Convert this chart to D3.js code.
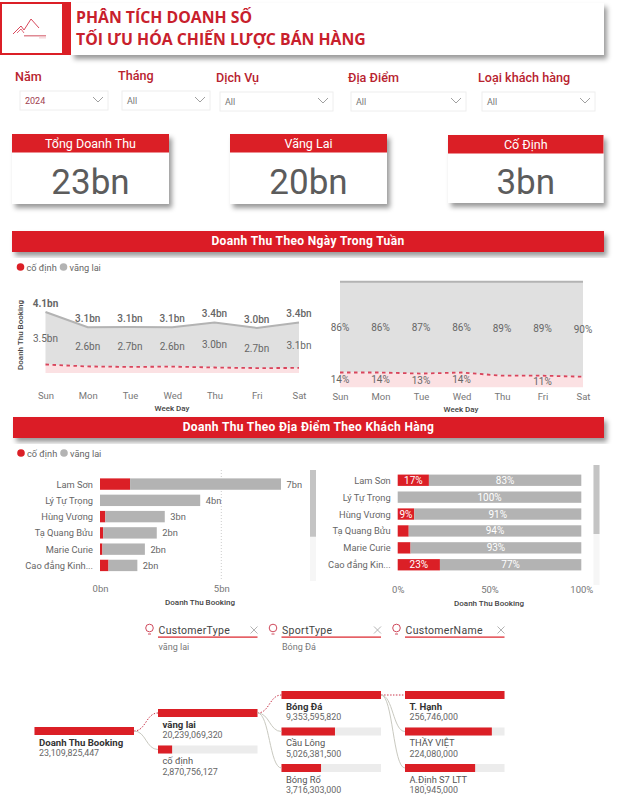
<!DOCTYPE html>
<html>
<head>
<meta charset="utf-8">
<style>
    html, body { margin: 0; padding: 0; background: #fff; }
    svg { display: block; }
    text { font-family: Roboto, "Open Sans", sans-serif; fill: #666; }
    .axis path, .axis line { display: none; }
    .axis text { font-size: 9.5px; fill: #777; font-family: Roboto, sans-serif; }
    .axis-title { font-size: 8px; font-weight: 500; fill: #444; }
    .lbl { font-size: 10px; fill: #666; }
    .cat { font-size: 9.3px; fill: #666; }
</style>
<script src="https://d3js.org/d3.v7.min.js"></script>
</head>
<body>

<svg id="page" width="621" height="799"></svg>

<script>
    var RED = "#db1f26", GREY = "#b3b3b3";

    // filters and cards
    var slicerNames = ["Năm", "Tháng", "Dịch Vụ", "Địa Điểm", "Loại khách hàng"];
    var slicerValues = ["2024", "All", "All", "All", "All"];
    var kpiNames = ["Tổng Doanh Thu", "Vãng Lai", "Cố Định"];
    var kpiValues = ["23bn", "20bn", "3bn"];

    // revenue by week day (bn)
    var days = ["Sun", "Mon", "Tue", "Wed", "Thu", "Fri", "Sat"];
    var dayCoDinh = [0.57, 0.44, 0.41, 0.43, 0.37, 0.33, 0.34];
    var dayVangLai = [3.53, 2.64, 2.68, 2.64, 3.03, 2.70, 3.06];
    var dayCoDinhPct = [14, 14, 13, 14, 11, 11, 10];
    var dayVangLaiPct = [86, 86, 87, 86, 89, 89, 90];
    var hiddenPctDays = ["Thu", "Sat"];

    // revenue by location (bn)
    var places = ["Lam Sơn", "Lý Tự Trọng", "Hùng Vương", "Tạ Quang Bửu", "Marie Curie", "Cao đẳng Kinh..."];
    var placesShort = ["Lam Sơn", "Lý Tự Trọng", "Hùng Vương", "Tạ Quang Bửu", "Marie Curie", "Cao đẳng Kin..."];
    var placeCoDinh = [1.24, 0, 0.22, 0.13, 0.10, 0.35];
    var placeVangLai = [6.22, 4.13, 2.45, 2.21, 1.75, 1.19];
    var placeCoDinhPct = [17, 0, 9, 6, 7, 23];
    var placeVangLaiPct = [83, 100, 91, 94, 93, 77];

    // decomposition tree
    var treeHeads = ["CustomerType", "SportType", "CustomerName"];
    var treeSubs = ["vãng lai", "Bóng Đá", ""];
    var rootName = "Doanh Thu Booking";
    var rootValue = 23109825447;
    var typeNames = ["vãng lai", "cố định"];
    var typeValues = [20239069320, 2870756127];
    var sportNames = ["Bóng Đá", "Cầu Lông", "Bóng Rổ"];
    var sportValues = [9353595820, 5026381500, 3716303000];
    var custNames = ["T. Hạnh", "THẦY VIỆT", "A.Định S7 LTT"];
    var custValues = [256746000, 224080000, 180945000];

    var svg = d3.select("#page");

    var defs = svg.append("defs");
    defs.append("filter").attr("id", "shadow")
        .attr("x", "-5%").attr("y", "-10%").attr("width", "112%").attr("height", "135%")
        .append("feDropShadow")
        .attr("dx", 3).attr("dy", 4).attr("stdDeviation", 2.5)
        .attr("flood-color", "#000").attr("flood-opacity", 0.4);

    // ---- header
    svg.append("rect").attr("x", 71).attr("y", 3).attr("width", 533).attr("height", 52)
        .attr("fill", "#fff").attr("filter", "url(#shadow)");
    svg.append("rect").attr("x", 0).attr("y", 2).attr("width", 71).attr("height", 53).attr("fill", RED);
    svg.append("rect").attr("x", 2).attr("y", 4).attr("width", 60).attr("height", 49).attr("fill", "#fff");
    svg.append("polyline")
        .attr("points", "13,34 21,26 24,30 31,19 39,28")
        .attr("fill", "none").attr("stroke", "#d8475a").attr("stroke-width", 1);
    svg.append("polyline")
        .attr("points", "17,33 21,29 24,33")
        .attr("fill", "none").attr("stroke", "#d8475a").attr("stroke-width", 0.8);
    svg.append("rect").attr("x", 24).attr("y", 35).attr("width", 22).attr("height", 1.5).attr("fill", "#e08a94");
    svg.append("rect").attr("x", 39).attr("y", 37.5).attr("width", 7).attr("height", 0.8).attr("fill", "#eeb9bf");

    svg.append("text").text("PHÂN TÍCH DOANH SỐ").attr("x", 76).attr("y", 23)
        .style("font-family", "'Open Sans'").style("font-size", "15.8px").style("font-weight", 700).style("fill", "#c8202c");
    svg.append("text").text("TỐI ƯU HÓA CHIẾN LƯỢC BÁN HÀNG").attr("x", 76).attr("y", 45)
        .style("font-family", "'Open Sans'").style("font-size", "15.8px").style("font-weight", 700).style("fill", "#c8202c");

    // ---- slicers
    var slicerBoxes = [
        { lx: 15, ly: 81, x: 20, y: 91, w: 88, h: 19 },
        { lx: 118, ly: 80, x: 122, y: 91, w: 88, h: 19 },
        { lx: 216, ly: 82, x: 220, y: 92, w: 113, h: 19 },
        { lx: 348, ly: 82, x: 351, y: 92, w: 115, h: 19 },
        { lx: 478, ly: 82, x: 482, y: 92, w: 113, h: 19 }
    ];
    slicerNames.forEach(function (name, i) {
        var b = slicerBoxes[i];
        svg.append("text").text(name).attr("x", b.lx).attr("y", b.ly)
            .style("font-size", "12.6px").style("font-weight", 500).style("fill", "#b8232f");
        svg.append("rect").attr("x", b.x).attr("y", b.y).attr("width", b.w).attr("height", b.h)
            .attr("fill", "#fff").attr("stroke", "#eeeeee");
        svg.append("text").text(slicerValues[i]).attr("x", b.x + 5).attr("y", b.y + 13)
            .style("font-size", "9px").style("fill", i == 0 ? "#a04050" : "#777");
        var cx = b.x + b.w - 10, cy = b.y + 8;
        svg.append("polyline")
            .attr("points", (cx - 5) + "," + (cy - 2) + " " + cx + "," + (cy + 3) + " " + (cx + 5) + "," + (cy - 2))
            .attr("fill", "none").attr("stroke", "#888").attr("stroke-width", 0.8);
    });

    // ---- kpi cards
    var kpiBoxes = [
        { x: 12, y: 134, w: 157, h: 70, hh: 18.5 },
        { x: 230, y: 134, w: 157, h: 70, hh: 18.5 },
        { x: 448, y: 135, w: 155.5, h: 68, hh: 18.5 }
    ];
    kpiNames.forEach(function (name, i) {
        var b = kpiBoxes[i];
        svg.append("rect").attr("x", b.x).attr("y", b.y).attr("width", b.w).attr("height", b.h)
            .attr("fill", "#fff").attr("filter", "url(#shadow)");
        svg.append("rect").attr("x", b.x).attr("y", b.y).attr("width", b.w).attr("height", b.hh).attr("fill", RED);
        svg.append("text").text(name).attr("x", b.x + b.w / 2).attr("y", b.y + 13.5)
            .attr("text-anchor", "middle")
            .style("font-size", "12.5px").style("fill", "#fff");
        svg.append("text").text(kpiValues[i]).attr("x", b.x + b.w / 2).attr("y", 194)
            .attr("text-anchor", "middle")
            .style("font-size", "35px").style("fill", "#5c5c5c");
    });

    // ---- section bands
    function band(x, y, w, h, label) {
        svg.append("rect").attr("x", x).attr("y", y).attr("width", w).attr("height", h)
            .attr("fill", RED).attr("filter", "url(#shadow)");
        svg.append("text").text(label).attr("x", x + w / 2).attr("y", y + 14)
            .attr("text-anchor", "middle")
            .style("font-size", "12px").style("font-weight", 700).style("fill", "#fff").style("letter-spacing", "0.35px");
    }
    function legend(y, x0) {
        svg.append("circle").attr("cx", x0).attr("cy", y).attr("r", 3.8).attr("fill", RED);
        svg.append("text").text("cố định").attr("x", x0 + 6).attr("y", y + 3.5).attr("class", "lbl").style("font-size", "9.2px");
        svg.append("circle").attr("cx", x0 + 43).attr("cy", y).attr("r", 3.8).attr("fill", GREY);
        svg.append("text").text("vãng lai").attr("x", x0 + 49).attr("y", y + 3.5).attr("class", "lbl").style("font-size", "9.2px");
    }
    band(12, 231, 592, 21, "Doanh Thu Theo Ngày Trong Tuần");
    band(13, 417, 591, 21, "Doanh Thu Theo Địa Điểm Theo Khách Hàng");
    legend(267, 20.5);
    legend(453, 21);

    function axisTitle(label, x, y) {
        svg.append("text").text(label).attr("class", "axis-title").attr("x", x).attr("y", y).attr("text-anchor", "middle");
    }

    // ---- week day area charts
    function dayChart(coDinh, vangLai, x0, x1, yMax, yTop, yBottom, axisY) {
        var x = d3.scalePoint().domain(days).range([x0, x1]);
        var y = d3.scaleLinear().domain([0, yMax]).range([yBottom, yTop]);
        var rows = days.map(function (d, i) {
            return { day: d, low: coDinh[i], top: coDinh[i] + vangLai[i], vang: vangLai[i] };
        });

        svg.append("path").datum(rows).attr("fill", "#e0e0e0")
            .attr("d", d3.area().x(function (d) { return x(d.day); })
                .y0(function (d) { return y(d.low); })
                .y1(function (d) { return y(d.top); }));
        svg.append("path").datum(rows).attr("fill", "#fbe1e3")
            .attr("d", d3.area().x(function (d) { return x(d.day); })
                .y0(y(0))
                .y1(function (d) { return y(d.low); }));
        svg.append("path").datum(rows).attr("fill", "none").attr("stroke", GREY).attr("stroke-width", 2)
            .attr("d", d3.line().x(function (d) { return x(d.day); }).y(function (d) { return y(d.top); }));
        svg.append("path").datum(rows).attr("fill", "none").attr("stroke", "#d9455c")
            .attr("stroke-width", 1.8).attr("stroke-dasharray", "3.5 3.5")
            .attr("d", d3.line().x(function (d) { return x(d.day); }).y(function (d) { return y(d.low); }));

        svg.append("g").attr("class", "axis").attr("transform", "translate(0," + axisY + ")")
            .call(d3.axisBottom(x).tickSize(0).tickPadding(0));

        return { x: x, y: y, rows: rows };
    }

    var c1 = dayChart(dayCoDinh, dayVangLai, 45.5, 299, 4.1, 312, 373, 392);
    var bn1 = d3.format(".1f");
    c1.rows.forEach(function (d) {
        svg.append("text").text(bn1(d.top) + "bn").attr("class", "lbl")
            .attr("x", c1.x(d.day)).attr("y", c1.y(d.top) - 5).attr("text-anchor", "middle")
            .style("font-weight", d.day == "Sun" ? 700 : 500);
        svg.append("text").text(bn1(d.vang) + "bn").attr("class", "lbl")
            .attr("x", c1.x(d.day)).attr("y", c1.y(d.low + d.vang / 2) + 3.5).attr("text-anchor", "middle");
    });
    svg.append("text").text("Doanh Thu Booking").attr("class", "axis-title")
        .attr("text-anchor", "middle")
        .attr("transform", "translate(23,335) rotate(-90)");
    axisTitle("Week Day", 172, 411);

    var c2 = dayChart(dayCoDinhPct, dayVangLaiPct, 340, 583, 100, 281.7, 387.3, 393);
    c2.rows.forEach(function (d) {
        svg.append("text").text(d.vang + "%").attr("class", "lbl")
            .attr("x", c2.x(d.day)).attr("y", c2.y(d.low + d.vang / 2) + 3.5).attr("text-anchor", "middle");
        if (hiddenPctDays.indexOf(d.day) < 0) {
            svg.append("text").text(d.low + "%").attr("class", "lbl")
                .attr("x", c2.x(d.day)).attr("y", c2.y(d.low / 2) + 3.5).attr("text-anchor", "middle");
        }
    });
    axisTitle("Week Day", 461, 412);

    // ---- location bars
    function scrollBar(x, y0, y1, y2) {
        svg.append("rect").attr("x", x).attr("y", y0).attr("width", 6).attr("height", y2 - y0).attr("fill", "#f6f6f6");
        svg.append("rect").attr("x", x).attr("y", y0).attr("width", 6).attr("height", y1 - y0).attr("fill", "#c4c4c4");
    }

    // absolute bars
    var xBn = d3.scaleLinear().domain([0, 5]).range([100, 221.3]);
    var yPlace = d3.scaleBand().domain(places).range([473.5, 576]).padding(0.3);
    svg.append("line").attr("x1", xBn(5)).attr("x2", xBn(5)).attr("y1", 470).attr("y2", 581)
        .attr("stroke", "#ccc").attr("stroke-dasharray", "1 2");
    places.forEach(function (p, i) {
        var total = placeCoDinh[i] + placeVangLai[i];
        svg.append("rect").attr("x", xBn(0)).attr("y", yPlace(p))
            .attr("width", xBn(placeCoDinh[i]) - xBn(0)).attr("height", yPlace.bandwidth()).attr("fill", RED);
        svg.append("rect").attr("x", xBn(placeCoDinh[i])).attr("y", yPlace(p))
            .attr("width", xBn(total) - xBn(placeCoDinh[i])).attr("height", yPlace.bandwidth()).attr("fill", GREY);
        svg.append("text").text(d3.format(".0f")(total) + "bn").attr("class", "cat")
            .attr("x", xBn(total) + 5.5).attr("y", yPlace(p) + yPlace.bandwidth() / 2 + 3.5);
        svg.append("text").text(p).attr("class", "cat")
            .attr("x", 93).attr("y", yPlace(p) + yPlace.bandwidth() / 2 + 3.5).attr("text-anchor", "end");
    });
    svg.append("g").attr("class", "axis").attr("transform", "translate(0,585.5)")
        .call(d3.axisBottom(xBn).tickValues([0, 5]).tickSize(0).tickPadding(0).tickFormat(function (d) { return d + "bn"; }));
    axisTitle("Doanh Thu Booking", 200, 605);
    scrollBar(310, 470, 536.7, 581);

    // percent bars
    var xPct = d3.scaleLinear().domain([0, 100]).range([397.7, 581.3]);
    var yPct = d3.scaleBand().domain(placesShort).range([469, 576]).padding(0.33);
    placesShort.forEach(function (p, i) {
        var red = placeCoDinhPct[i], grey = placeVangLaiPct[i];
        var mid = yPct(p) + yPct.bandwidth() / 2 + 3.5;
        svg.append("rect").attr("x", xPct(0)).attr("y", yPct(p))
            .attr("width", xPct(red) - xPct(0)).attr("height", yPct.bandwidth()).attr("fill", RED);
        svg.append("rect").attr("x", xPct(red)).attr("y", yPct(p))
            .attr("width", xPct(100) - xPct(red)).attr("height", yPct.bandwidth()).attr("fill", GREY);
        if (red >= 9) {
            svg.append("text").text(red + "%").attr("class", "lbl").attr("x", xPct(red / 2)).attr("y", mid)
                .attr("text-anchor", "middle").style("fill", "#fff");
        }
        svg.append("text").text(grey + "%").attr("class", "lbl").attr("x", xPct(red + grey / 2)).attr("y", mid)
            .attr("text-anchor", "middle").style("fill", "#fff");
        svg.append("text").text(p).attr("class", "cat")
            .attr("x", 390.7).attr("y", mid).attr("text-anchor", "end");
    });
    svg.append("g").attr("class", "axis").attr("transform", "translate(0,586)")
        .call(d3.axisBottom(xPct).tickValues([0, 50, 100]).tickSize(0).tickPadding(0).tickFormat(function (d) { return d + "%"; }));
    axisTitle("Doanh Thu Booking", 489, 606);
    scrollBar(593.5, 465, 534, 585);

    // ---- decomposition tree
    var colX = [34.5, 158, 281.5, 405];
    var colW = 99.5;
    var barH = 8;
    var treeY = [
        [727],
        [709, 745.5],
        [691, 727.5, 764],
        [691, 727.5, 764]
    ];
    var treeCols = [
        { names: [rootName], values: [rootValue] },
        { names: typeNames, values: typeValues },
        { names: sportNames, values: sportValues },
        { names: custNames, values: custValues }
    ];
    var bigNum = d3.format(",");
    var linkGen = d3.linkHorizontal().x(function (d) { return d[0]; }).y(function (d) { return d[1]; });

    treeCols.forEach(function (col, c) {
        var x = d3.scaleLinear().domain([0, d3.max(col.values)]).range([colX[c], colX[c] + colW]);
        col.values.forEach(function (v, i) {
            var y = treeY[c][i];
            svg.append("rect").attr("x", colX[c]).attr("y", y).attr("width", colW).attr("height", barH).attr("fill", "#ececec");
            svg.append("rect").attr("x", colX[c]).attr("y", y).attr("width", x(v) - colX[c]).attr("height", barH).attr("fill", RED);
            svg.append("text").text(col.names[i]).attr("x", colX[c] + 4.5).attr("y", y + 18.5)
                .style("font-size", i == 0 ? "9.6px" : "9.3px").style("font-weight", i == 0 ? 700 : 400).style("fill", i == 0 ? "#333" : "#555");
            svg.append("text").text(bigNum(v)).attr("x", colX[c] + 4.5).attr("y", y + 29)
                .style("font-size", "8.9px").style("fill", "#666");
            // links come from the first (selected) node of the previous column
            if (c > 0) {
                var from = [colX[c - 1] + colW, treeY[c - 1][0] + barH / 2];
                var to = [colX[c], y + barH / 2];
                svg.append("path").attr("d", linkGen({ source: from, target: to }))
                    .attr("fill", "none")
                    .attr("stroke", i == 0 ? "#c9354a" : "#c9c9c0")
                    .attr("stroke-width", 1)
                    .attr("stroke-dasharray", i == 0 ? "1.5 1.5" : null);
            }
        });
    });

    treeHeads.forEach(function (head, i) {
        var x = colX[i + 1];
        // lightbulb
        svg.append("circle").attr("cx", x - 8.5).attr("cy", 628).attr("r", 3.8)
            .attr("fill", "none").attr("stroke", "#c9354a").attr("stroke-width", 0.9);
        svg.append("line").attr("x1", x - 10).attr("x2", x - 7).attr("y1", 634).attr("y2", 634)
            .attr("stroke", "#c9354a").attr("stroke-width", 0.9);
        svg.append("text").text(head).attr("x", x + 0.5).attr("y", 633.5)
            .style("font-size", "10.5px").style("fill", "#444").style("letter-spacing", "0.3px");
        svg.append("rect").attr("x", x).attr("y", 636.5).attr("width", colW).attr("height", 1.2).attr("fill", RED);
        var cx = x + 96, cy = 630;
        svg.append("path").attr("d", "M" + (cx - 3.5) + "," + (cy - 3.5) + "L" + (cx + 3.5) + "," + (cy + 3.5) +
            "M" + (cx + 3.5) + "," + (cy - 3.5) + "L" + (cx - 3.5) + "," + (cy + 3.5))
            .attr("stroke", "#aaa").attr("stroke-width", 0.9);
        if (treeSubs[i]) {
            svg.append("text").text(treeSubs[i]).attr("x", x + 0.5).attr("y", 650)
                .style("font-size", "9px").style("fill", "#777");
        }
    });
</script>
</body>
</html>
